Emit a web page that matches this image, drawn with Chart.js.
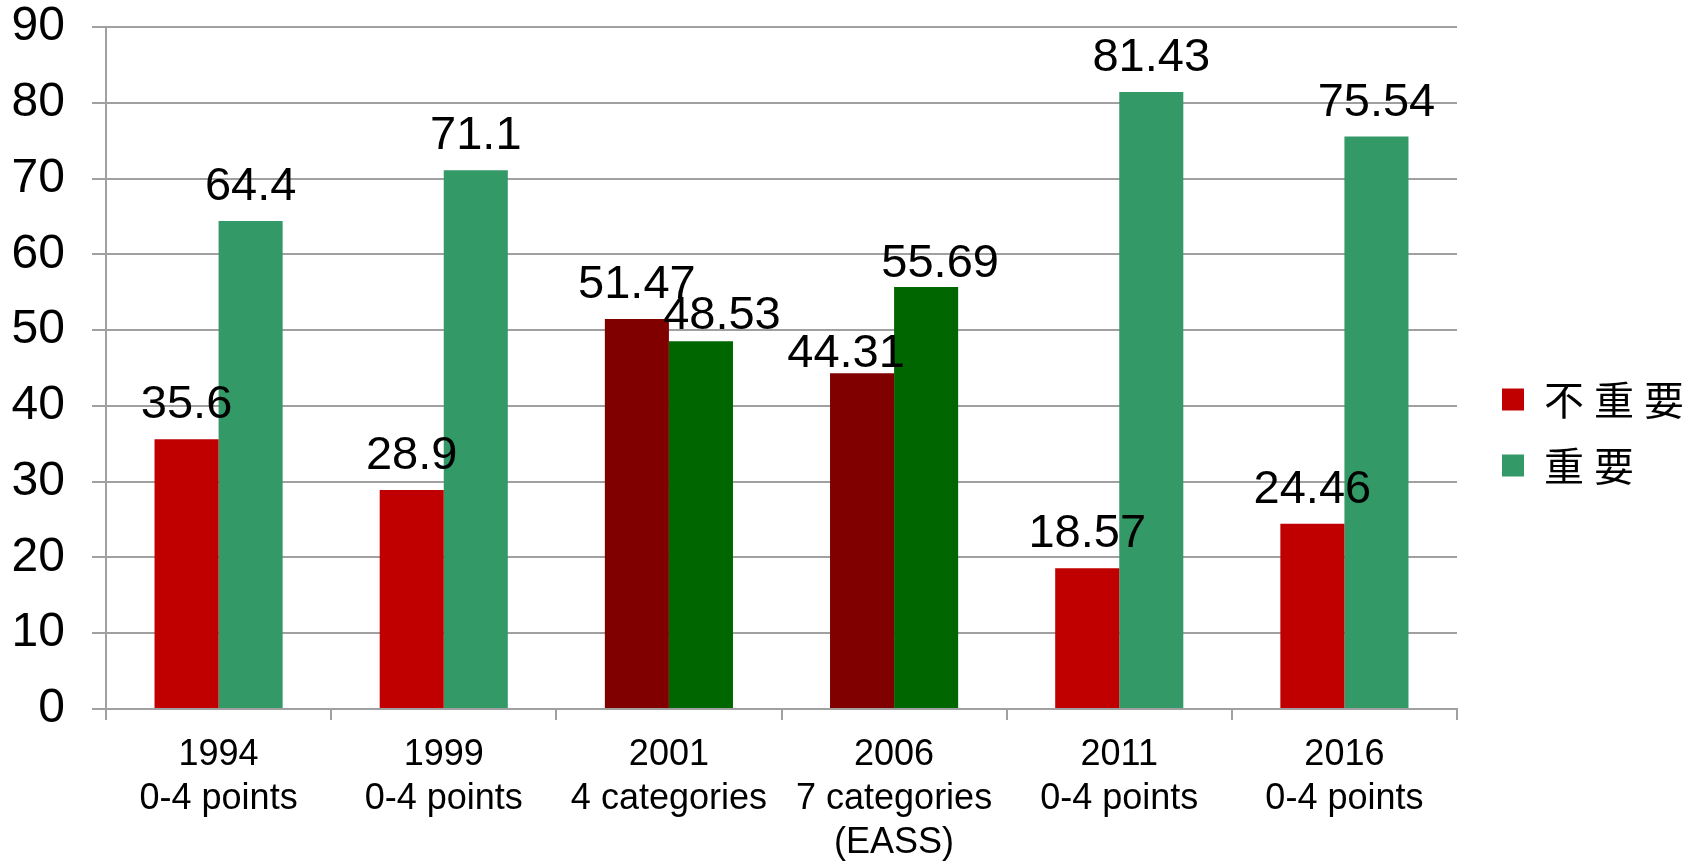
<!DOCTYPE html>
<html>
<head>
<meta charset="utf-8">
<script src="https://cdn.jsdelivr.net/npm/chart.js@4"></script>
<style>
  html, body { margin: 0; padding: 0; background: #fff; }
</style>
</head>
<body>
<canvas id="myChart" width="1690" height="865"></canvas>
<script>
const years = ['1994', '1999', '2001', '2006', '2011', '2016'];
const methods = [['0-4 points'], ['0-4 points'], ['4 categories'], ['7 categories', '(EASS)'], ['0-4 points'], ['0-4 points']];
const notImportant = [35.6, 28.9, 51.47, 44.31, 18.57, 24.46];
const important = [64.4, 71.1, 48.53, 55.69, 81.43, 75.54];
const notImportantColors = ['#C00000', '#C00000', '#800000', '#800000', '#C00000', '#C00000'];
const importantColors = ['#339966', '#339966', '#006600', '#006600', '#339966', '#339966'];
const seriesNames = ['不重要', '重要'];

const labels = years.map((y, i) => [y].concat(methods[i]));
const gridGray = '#a0a0a0';

// value labels above the bars, a few nudged like in the original
const valueLabels = {
  id: 'valueLabels',
  afterDatasetsDraw(chart, args, opts) {
    const ctx = chart.ctx;
    ctx.save();
    ctx.font = '47px "Liberation Sans", Arial, sans-serif';
    ctx.fillStyle = '#000';
    ctx.textAlign = 'center';
    ctx.textBaseline = 'alphabetic';
    chart.data.datasets.forEach((ds, i) => {
      chart.getDatasetMeta(i).data.forEach((bar, j) => {
        const s = (opts.shift[i] && opts.shift[i][j]) || [0, 0];
        ctx.fillText(String(ds.data[j]), bar.x + s[0], bar.y - 21 + s[1]);
      });
    });
    ctx.restore();
  }
};

// wider letter spacing for the legend text, and move it a bit right
const legendSpacing = {
  id: 'legendSpacing',
  afterInit(chart) {
    const legend = chart.legend;
    const fit = legend.fit.bind(legend);
    const draw = legend.draw.bind(legend);
    legend.fit = function () {
      chart.ctx.save();
      chart.ctx.letterSpacing = '10px';
      fit();
      chart.ctx.restore();
    };
    legend.draw = function () {
      chart.ctx.save();
      chart.ctx.letterSpacing = '10px';
      chart.ctx.translate(19, 0);
      draw();
      chart.ctx.restore();
    };
  }
};

const data = {
  labels: labels,
  datasets: [{
    label: seriesNames[0],
    data: notImportant,
    backgroundColor: notImportantColors,
    categoryPercentage: 0.569,
    barPercentage: 1
  }, {
    label: seriesNames[1],
    data: important,
    backgroundColor: importantColors,
    categoryPercentage: 0.569,
    barPercentage: 1
  }]
};

const config = {
  type: 'bar',
  data: data,
  plugins: [valueLabels, legendSpacing],
  options: {
    responsive: false,
    animation: false,
    devicePixelRatio: 1,
    layout: { padding: { left: 0, right: 5, top: 0, bottom: 0 } },
    plugins: {
      tooltip: { enabled: false },
      valueLabels: {
        shift: [
          [null, null, [0, 0], [-16, 15], null, null],
          [null, null, [21, 9], [14, 11], null, null]
        ]
      },
      legend: {
        position: 'right',
        align: 'center',
        labels: {
          boxWidth: 22,
          boxHeight: 22,
          padding: 26,
          color: '#000',
          font: { family: '"Noto Sans CJK TC", "Noto Sans CJK SC", sans-serif', size: 40 },
          generateLabels(chart) {
            return chart.data.datasets.map((ds, i) => ({
              text: ds.label,
              fillStyle: ds.backgroundColor[0],
              strokeStyle: ds.backgroundColor[0],
              lineWidth: 0,
              hidden: false,
              datasetIndex: i
            }));
          }
        }
      }
    },
    scales: {
      x: {
        grid: { drawOnChartArea: false, color: gridGray, lineWidth: 2, tickLength: 11, offset: true },
        border: { color: gridGray, width: 2 },
        ticks: {
          color: '#000',
          autoSkip: false,
          maxRotation: 0,
          padding: 13,
          font: { family: '"Liberation Sans", Arial, sans-serif', size: 36, lineHeight: 1.22 }
        },
        afterFit(scale) {
          scale.height = 156;
        }
      },
      y: {
        min: 0,
        max: 90,
        grid: { color: gridGray, lineWidth: 2, tickLength: 14 },
        border: { color: gridGray, width: 2 },
        ticks: {
          stepSize: 10,
          color: '#000',
          padding: 27,
          font: { family: '"Liberation Sans", Arial, sans-serif', size: 48 }
        },
        afterFit(scale) {
          scale.width = 106;
          scale.paddingTop = 27;
        }
      }
    }
  }
};

const myChart = new Chart(document.getElementById('myChart'), config);
</script>
</body>
</html>
